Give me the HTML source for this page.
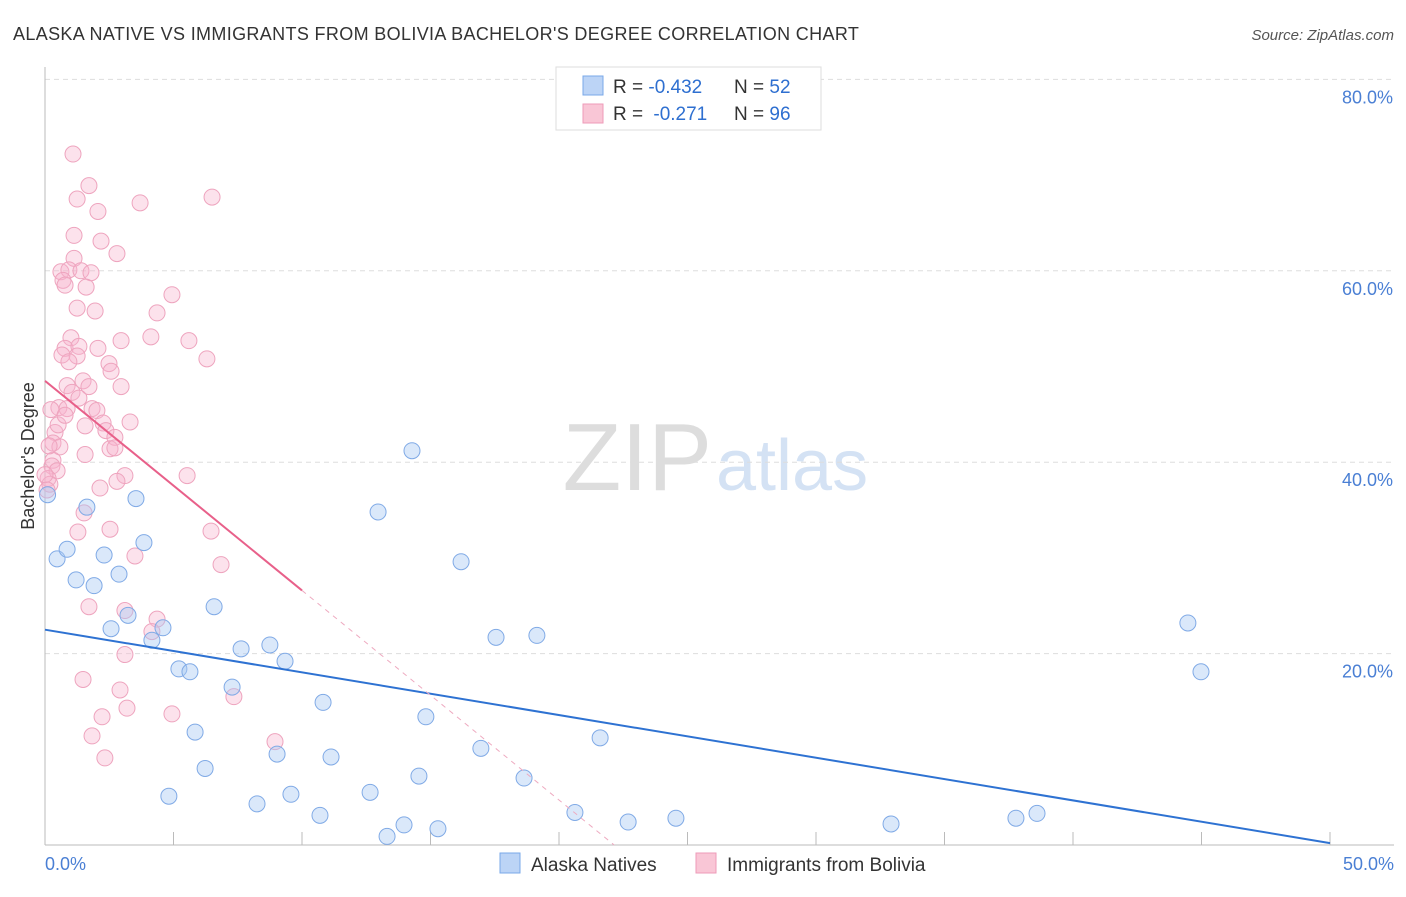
<!DOCTYPE html>
<html><head><meta charset="utf-8"><style>
body{margin:0;background:#fff;font-family:"Liberation Sans",sans-serif;}
svg text{font-family:"Liberation Sans",sans-serif;}
</style></head><body>
<svg id="chart" width="1406" height="892" viewBox="0 0 1406 892">
<text x="13" y="40" font-size="18" fill="#333" letter-spacing="0.35">ALASKA NATIVE VS IMMIGRANTS FROM BOLIVIA BACHELOR'S DEGREE CORRELATION CHART</text>
<text x="1394" y="40" font-size="15" fill="#555" text-anchor="end" font-style="italic">Source: ZipAtlas.com</text>
<text x="712" y="490" font-size="96" fill="#ddd" text-anchor="end" font-family="Liberation Serif">ZIP</text>
<text x="716" y="490" font-size="72" fill="#d4e2f4">atlas</text>
<g id="grid"></g>
<g id="axes"></g>
<g id="pts"></g>
<g id="lines"></g>
<text transform="translate(34,456) rotate(-90)" font-size="18" fill="#333" text-anchor="middle">Bachelor's Degree</text>
<text x="45" y="870" font-size="18" fill="#4a7fd4">0.0%</text>
<text x="1394" y="870" font-size="18" fill="#4a7fd4" text-anchor="end">50.0%</text>
<g>
<rect x="556" y="67" width="265" height="63" fill="#fff" stroke="#ddd"/>
<rect x="583" y="76" width="20" height="19" fill="#bcd4f6" stroke="#7aa8e8"/>
<rect x="583" y="104" width="20" height="19" fill="#f9c6d6" stroke="#ee9bb8"/>
<text x="613" y="93" font-size="19" fill="#333">R = <tspan fill="#2e6fd0">-0.432</tspan></text>
<text x="734" y="93" font-size="19" fill="#333">N = <tspan fill="#2e6fd0">52</tspan></text>
<text x="613" y="120" font-size="19" fill="#333">R = <tspan fill="#2e6fd0" dx="5">-0.271</tspan></text>
<text x="734" y="120" font-size="19" fill="#333">N = <tspan fill="#2e6fd0">96</tspan></text>
</g>
<g>
<rect x="500" y="853" width="20" height="20" fill="#bcd4f6" stroke="#7aa8e8"/>
<text x="531" y="871" font-size="19" fill="#333">Alaska Natives</text>
<rect x="696" y="853" width="20" height="20" fill="#f9c6d6" stroke="#ee9bb8"/>
<text x="727" y="871" font-size="19" fill="#333">Immigrants from Bolivia</text>
</g>
</svg>
<script>
const yTicks=[20,40,60,80];
const yTickLabels=["20.0%","40.0%","60.0%","80.0%"];
const blueX=[0.47,0.86,1.21,1.63,1.91,2.30,2.57,2.88,3.23,3.54,3.85,4.16,4.59,4.82,5.21,5.64,5.84,6.23,6.58,7.63,7.28,8.25,8.75,9.03,9.34,9.57,10.7,10.82,11.13,12.65,12.96,13.31,13.97,14.28,14.55,14.82,15.29,16.19,16.96,17.55,18.64,19.14,20.62,21.6,22.69,24.55,32.92,37.78,38.6,44.47,44.98,0.1];
const blueY=[29.9,30.9,27.7,35.3,27.1,30.3,22.6,28.3,24.0,36.2,31.6,21.4,22.7,5.1,18.4,18.1,11.8,8.0,24.9,20.5,16.5,4.3,20.9,9.5,19.2,5.3,3.1,14.9,9.2,5.5,34.8,0.9,2.1,41.2,7.2,13.4,1.7,29.6,10.1,21.7,7.0,21.9,3.4,11.2,2.4,2.8,2.2,2.8,3.3,23.2,18.1,36.6];
const pinkX=[1.09,1.71,1.25,2.06,3.70,6.50,1.13,2.18,2.80,1.13,0.62,0.93,1.40,1.79,0.70,0.78,1.60,4.94,1.25,1.95,4.36,1.01,4.12,2.96,5.60,0.78,1.32,2.06,0.66,1.25,2.49,6.30,0.93,2.57,1.48,0.86,1.71,2.96,1.05,1.32,0.54,1.83,0.86,2.02,0.23,2.26,3.31,1.56,2.37,0.39,2.72,0.31,0.58,2.53,2.72,1.56,0.31,0.27,0.47,0.12,0.19,5.53,3.11,2.80,2.14,1.52,2.53,1.28,6.46,3.50,6.85,1.71,3.11,4.36,4.16,3.11,1.48,2.92,3.19,4.94,2.22,7.35,1.83,8.95,2.33,0.0,0.08,0.16,0.51,0.78];
const pinkY=[72.2,68.9,67.5,66.2,67.1,67.7,63.7,63.1,61.8,61.3,59.9,60.1,60.0,59.8,59.0,58.5,58.3,57.5,56.1,55.8,55.6,53.0,53.1,52.7,52.7,51.9,52.1,51.9,51.2,51.1,50.3,50.8,50.5,49.5,48.5,48.0,47.9,47.9,47.3,46.7,45.7,45.6,45.6,45.4,45.5,44.1,44.2,43.8,43.3,43.1,42.6,42.0,41.6,41.4,41.5,40.8,40.2,39.6,39.1,38.3,37.7,38.6,38.6,38.0,37.3,34.7,33.0,32.7,32.8,30.2,29.3,24.9,24.5,23.6,22.3,19.9,17.3,16.2,14.3,13.7,13.4,15.5,11.4,10.8,9.1,38.7,37.1,41.7,43.9,44.9];
const blueFit=[22.5,0.2];
const pinkFit=[48.5,26.6];
const NS="http://www.w3.org/2000/svg";
const X0=45,X1=1330,Y0=845,YPX=9.57;
function sx(v){return X0+(X1-X0)*v/50;}
function sy(v){return Y0-v*YPX;}
function mk(tag,attrs,parent){const e=document.createElementNS(NS,tag);for(const k in attrs)e.setAttribute(k,attrs[k]);document.getElementById(parent).appendChild(e);return e;}
yTicks.forEach((t,i)=>{
  const g=mk('line',{x1:45,x2:1394,y1:sy(t),y2:sy(t),stroke:'#ddd','stroke-dasharray':'5,4'},'grid');
  
  
  const l=mk('text',{x:1393,y:sy(t)+24,'font-size':18,fill:'#4a7fd4','text-anchor':'end'},'grid');
  l.textContent=yTickLabels[i];
  
  
});
let a=mk('line',{x1:45,x2:45,y1:67,y2:845,stroke:'#bbb'},'axes');


a=mk('line',{x1:45,x2:1394,y1:845,y2:845,stroke:'#bbb'},'axes');


for(let i=1;i<=10;i++){
  const t=mk('line',{x1:sx(i*5),x2:sx(i*5),y1:832,y2:845,stroke:'#bbb'},'axes');
  
  
}
pinkX.forEach((x,i)=>{
  const c=mk('circle',{cx:sx(x),cy:sy(pinkY[i]),r:8,fill:'rgba(246,180,204,0.38)',stroke:'#eea4be','stroke-width':1},'pts');
  
  
});
blueX.forEach((x,i)=>{
  const c=mk('circle',{cx:sx(x),cy:sy(blueY[i]),r:8,fill:'rgba(168,200,242,0.42)',stroke:'#80aae6','stroke-width':1},'pts');
  
  
});
let ln=mk('line',{x1:sx(0),y1:sy(blueFit[0]),x2:sx(50),y2:sy(blueFit[1]),stroke:'#2e72d2','stroke-width':2},'lines');


const slope=(pinkFit[1]-pinkFit[0])/10, xz=-pinkFit[0]/slope;
ln=mk('line',{x1:sx(0),y1:sy(pinkFit[0]),x2:sx(10),y2:sy(pinkFit[1]),stroke:'#e8608a','stroke-width':2},'lines');


ln=mk('line',{x1:sx(10),y1:sy(pinkFit[1]),x2:sx(xz),y2:sy(0),stroke:'#eeaac0','stroke-width':1,'stroke-dasharray':'5,5'},'lines');


</script>
</body></html>
